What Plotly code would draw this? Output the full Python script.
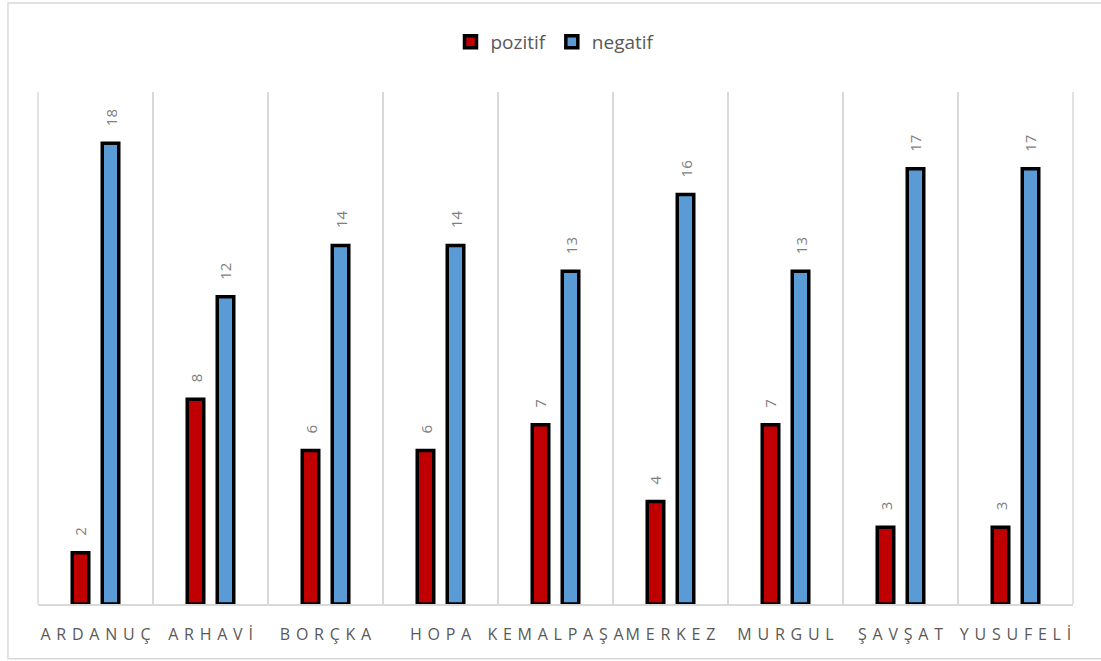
import plotly.graph_objects as go

categories = ["ARDANUÇ", "ARHAVİ", "BORÇKA", "HOPA", "KEMALPAŞA", "MERKEZ", "MURGUL", "ŞAVŞAT", "YUSUFELİ"]
pozitif = [2, 8, 6, 6, 7, 4, 7, 3, 3]
negatif = [18, 12, 14, 14, 13, 16, 13, 17, 17]

SP = "\u00a0\u200a"
tick_labels = [SP.join(list(c)) for c in categories]

RED = "#C00000"
BLUE = "#5B9BD5"
GRID = "#d9d9d9"
LABEL = "#7f7f7f"
TEXT = "#595959"
FONT = "Open Sans"

fig = go.Figure()
fig.add_trace(go.Bar(name="pozitif", x=categories, y=pozitif,
                     marker=dict(color=RED, line=dict(color="black", width=3.5))))
fig.add_trace(go.Bar(name="negatif", x=categories, y=negatif,
                     marker=dict(color=BLUE, line=dict(color="black", width=3.5))))

annotations = []
for vals, shift in ((pozitif, -15), (negatif, 15)):
    for c, v in zip(categories, vals):
        annotations.append(dict(x=c, y=v, xref="x", yref="y", text=str(v),
                                showarrow=False, textangle=-90, xshift=shift, yshift=15,
                                yanchor="bottom", xanchor="center",
                                font=dict(family=FONT, size=15, color=LABEL)))

fig.update_layout(
    width=1101, height=661,
    margin=dict(l=38, r=28, t=92, b=57),
    paper_bgcolor="white", plot_bgcolor="white",
    barmode="group", bargap=0.478, bargroupgap=0.45,
    font=dict(family=FONT, color=TEXT),
    showlegend=True,
    legend=dict(orientation="h", x=0.5, xanchor="center", y=1.098, yanchor="middle",
                font=dict(family=FONT, size=19, color=TEXT), itemwidth=30,
                traceorder="normal"),
    annotations=annotations,
    shapes=[
        dict(type="rect", xref="paper", yref="paper", x0=-0.029, x1=1.04, y0=-0.107, y1=1.174,
             line=dict(color=GRID, width=1.5), fillcolor="rgba(0,0,0,0)", layer="below"),
        dict(type="line", xref="paper", yref="paper", x0=0, x1=0, y0=0, y1=1,
             line=dict(color=GRID, width=1.5), layer="below"),
        dict(type="line", xref="paper", yref="paper", x0=1, x1=1, y0=0, y1=1,
             line=dict(color=GRID, width=1.5), layer="below"),
    ],
)
fig.update_xaxes(type="category", tickmode="array", tickvals=categories, ticktext=tick_labels,
                 range=[-0.5, 8.5], showgrid=True, gridcolor=GRID, gridwidth=1.5,
                 tickson="boundaries", ticks="", showline=True, linecolor=GRID, linewidth=1.5,
                 tickangle=0, automargin=False,
                 tickfont=dict(family=FONT, size=16, color=TEXT), ticklabelstandoff=15)
fig.update_yaxes(range=[0, 20], showgrid=False, zeroline=False, showticklabels=False,
                 showline=False, automargin=False)

fig.write_html("out.html")
